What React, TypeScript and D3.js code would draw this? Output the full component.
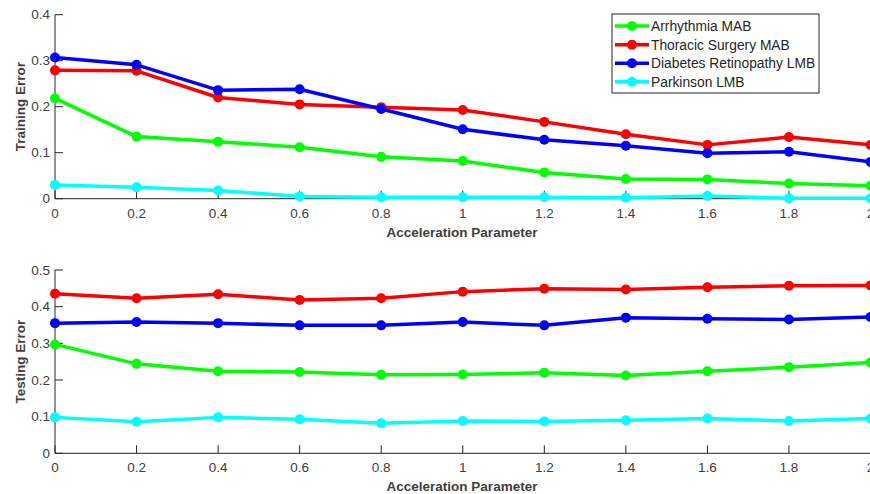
import * as d3 from 'd3';
import React from 'react';

// acceleration parameter values (x)
const accel = [0, 0.2, 0.4, 0.6, 0.8, 1.0, 1.2, 1.4, 1.6, 1.8, 2.0];
const xTicks = [0, 0.2, 0.4, 0.6, 0.8, 1, 1.2, 1.4, 1.6, 1.8, 2];

const seriesNames = ['Arrhythmia MAB', 'Thoracic Surgery MAB', 'Diabetes Retinopathy LMB', 'Parkinson LMB'];
const seriesColors = ['#00ff00', '#ff0000', '#0000ff', '#00ffff'];

// training error
const trainArrhythmia = [0.218, 0.135, 0.124, 0.112, 0.091, 0.082, 0.057, 0.043, 0.042, 0.033, 0.028];
const trainThoracic = [0.279, 0.278, 0.22, 0.205, 0.199, 0.193, 0.167, 0.14, 0.117, 0.134, 0.117];
const trainDiabetes = [0.307, 0.291, 0.236, 0.238, 0.195, 0.151, 0.128, 0.115, 0.099, 0.102, 0.08];
const trainParkinson = [0.03, 0.025, 0.018, 0.005, 0.003, 0.003, 0.003, 0.002, 0.006, 0.001, 0.001];

// testing error
const testArrhythmia = [0.297, 0.244, 0.224, 0.222, 0.214, 0.215, 0.22, 0.212, 0.224, 0.235, 0.248];
const testThoracic = [0.435, 0.423, 0.434, 0.418, 0.423, 0.441, 0.449, 0.447, 0.453, 0.457, 0.458];
const testDiabetes = [0.355, 0.358, 0.355, 0.349, 0.349, 0.358, 0.349, 0.37, 0.367, 0.365, 0.372];
const testParkinson = [0.098, 0.086, 0.098, 0.093, 0.082, 0.088, 0.087, 0.09, 0.095, 0.088, 0.095];

const trainYTicks = [0, 0.1, 0.2, 0.3, 0.4];
const testYTicks = [0, 0.1, 0.2, 0.3, 0.4, 0.5];

const width = 870;
const height = 494;
const axisColor = '#262626';
const font = 'Liberation Sans, Arial, Helvetica, sans-serif';

const x = d3.scaleLinear([0, 2], [55, 870.5]);

const Panel = ({ series, yMax, yTop, yBottom, yTicks, yLabel }) => {
  const y = d3.scaleLinear([0, yMax], [yBottom, yTop]);
  const line = d3.line((d, i) => x(accel[i]), (d) => y(d));
  const x0 = x(0);
  return (
    <g>
      {/* y axis, ticks point inward like matlab */}
      <line x1={x0} x2={x0} y1={yTop} y2={yBottom} stroke={axisColor} strokeWidth={1} />
      {yTicks.map((t) => (
        <g key={t}>
          <line x1={x0} x2={x0 + 8} y1={y(t)} y2={y(t)} stroke={axisColor} />
          <text x={x0 - 5} y={y(t)} dy="0.35em" textAnchor="end" fontSize={13.5} fill="#404040">
            {t}
          </text>
        </g>
      ))}
      {/* x axis */}
      <line x1={x0} x2={width} y1={yBottom} y2={yBottom} stroke={axisColor} strokeWidth={1} />
      {xTicks.map((t) => (
        <g key={t}>
          <line x1={x(t)} x2={x(t)} y1={yBottom} y2={yBottom - 8} stroke={axisColor} />
          <text x={x(t)} y={yBottom + 19} textAnchor="middle" fontSize={13.5} fill="#404040">
            {t}
          </text>
        </g>
      ))}
      <text x={462} y={yBottom + 38} textAnchor="middle" fontSize={13.5} fontWeight="bold" fill="#404040">
        Acceleration Parameter
      </text>
      <text
        transform={`translate(25,${(yTop + yBottom) / 2}) rotate(-90)`}
        textAnchor="middle"
        fontSize={13.5}
        fontWeight="bold"
        fill="#404040"
      >
        {yLabel}
      </text>
      {/* series */}
      {series.map((s, k) => (
        <g key={k}>
          <path d={line(s)} fill="none" stroke={seriesColors[k]} strokeWidth={3.5} strokeLinejoin="round" />
          {s.map((d, i) => (
            <circle key={i} cx={x(accel[i])} cy={y(d)} r={5} fill={seriesColors[k]} />
          ))}
        </g>
      ))}
    </g>
  );
};

const Legend = () => {
  const lx = 612;
  const ly = 14;
  const rows = [26, 44.7, 63.3, 81.7];
  return (
    <g>
      <rect x={lx} y={ly} width={207} height={79} fill="white" stroke={axisColor} strokeWidth={1} />
      {seriesNames.map((n, k) => (
        <g key={n}>
          <line x1={615} x2={649} y1={rows[k]} y2={rows[k]} stroke={seriesColors[k]} strokeWidth={3.5} />
          <circle cx={632} cy={rows[k]} r={5} fill={seriesColors[k]} />
          <text x={651} y={rows[k]} dy="0.35em" fontSize={13.8} fill="#262626">
            {n}
          </text>
        </g>
      ))}
    </g>
  );
};

export default function App() {
  return (
    <svg
      width={width}
      height={height}
      style={{ position: 'absolute', left: 0, top: 0, background: 'white' }}
      fontFamily={font}
    >
      <Panel
        series={[trainArrhythmia, trainThoracic, trainDiabetes, trainParkinson]}
        yMax={0.4}
        yTop={14.7}
        yBottom={198.7}
        yTicks={trainYTicks}
        yLabel="Training Error"
      />
      <Legend />
      <Panel
        series={[testArrhythmia, testThoracic, testDiabetes, testParkinson]}
        yMax={0.5}
        yTop={270}
        yBottom={453.3}
        yTicks={testYTicks}
        yLabel="Testing Error"
      />
    </svg>
  );
}
